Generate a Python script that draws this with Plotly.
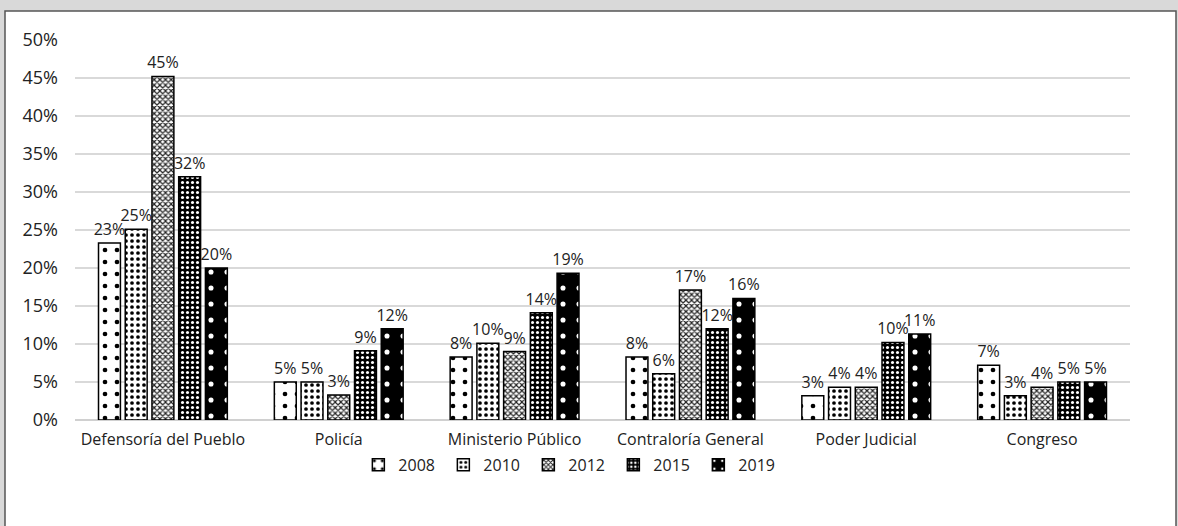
import plotly.graph_objects as go

categories = ["Defensoría del Pueblo", "Policía", "Ministerio Público",
              "Contraloría General", "Poder Judicial", "Congreso"]
years = ["2008", "2010", "2012", "2015", "2019"]
v2008 = [23.3, 5.0, 8.3, 8.3, 3.2, 7.2]
v2010 = [25.1, 5.0, 10.1, 6.1, 4.3, 3.2]
v2012 = [45.2, 3.3, 9.0, 17.1, 4.3, 4.3]
v2015 = [32.0, 9.1, 14.1, 12.0, 10.2, 5.0]
v2019 = [20.0, 12.0, 19.3, 16.0, 11.3, 5.0]
series = [v2008, v2010, v2012, v2015, v2019]
tick_vals = [0, 5, 10, 15, 20, 25, 30, 35, 40, 45, 50]
tick_text = [f"{t}%" for t in tick_vals]

patterns = [
    dict(shape=".", bgcolor="white", fgcolor="black", size=12, solidity=0.12, fillmode="replace"),
    dict(shape=".", bgcolor="white", fgcolor="black", size=6, solidity=0.3, fillmode="replace"),
    dict(shape="x", bgcolor="white", fgcolor="#222", size=4, solidity=0.5, fillmode="replace"),
    dict(shape=".", bgcolor="black", fgcolor="white", size=5, solidity=0.3, fillmode="replace"),
    dict(shape=".", bgcolor="black", fgcolor="white", size=16, solidity=0.08, fillmode="replace"),
]

FONT = "Open Sans"
fig = go.Figure()
for y, vals, pat in zip(years, series, patterns):
    fig.add_trace(go.Bar(
        name=y, x=categories, y=vals,
        text=[f"{round(v)}%" for v in vals],
        textposition="outside", textangle=0, cliponaxis=False,
        constraintext="none",
        textfont=dict(family=FONT, size=16, color="#222"),
        marker=dict(color="white", pattern=pat,
                    line=dict(color="black", width=1.5)),
    ))

fig.update_layout(
    width=1178, height=526,
    margin=dict(l=75, r=48, t=40, b=106),
    paper_bgcolor="#d9d9d9", plot_bgcolor="white",
    barmode="group", bargap=0.24, bargroupgap=0.18,
    font=dict(family=FONT, size=16, color="#222"),
    showlegend=True,
    legend=dict(orientation="h", x=0.47, xanchor="center", y=-0.118, yanchor="middle",
                font=dict(family=FONT, size=16, color="#222"),
                itemwidth=30, entrywidth=40, entrywidthmode="pixels",
                traceorder="normal", bgcolor="rgba(0,0,0,0)"),
    xaxis=dict(showgrid=False, showline=False, ticks="", ticklabelstandoff=8,
               tickfont=dict(family=FONT, size=16, color="#222")),
    yaxis=dict(range=[0, 50], tickvals=tick_vals, ticktext=tick_text,
               showgrid=True, gridcolor="#d9d9d9", gridwidth=2,
               zeroline=True, zerolinecolor="#d0d0d0", zerolinewidth=2,
               showline=False, ticks="", ticklabelstandoff=16,
               tickfont=dict(family=FONT, size=18, color="#222")),
    shapes=[dict(type="rect", xref="paper", yref="paper", layer="below",
                 x0=-70/1055, x1=1 + 46/1055, y0=-115/380, y1=1 + 29/380,
                 fillcolor="white", line=dict(color="#555", width=1.5))],
)

fig.write_html("out.html")
